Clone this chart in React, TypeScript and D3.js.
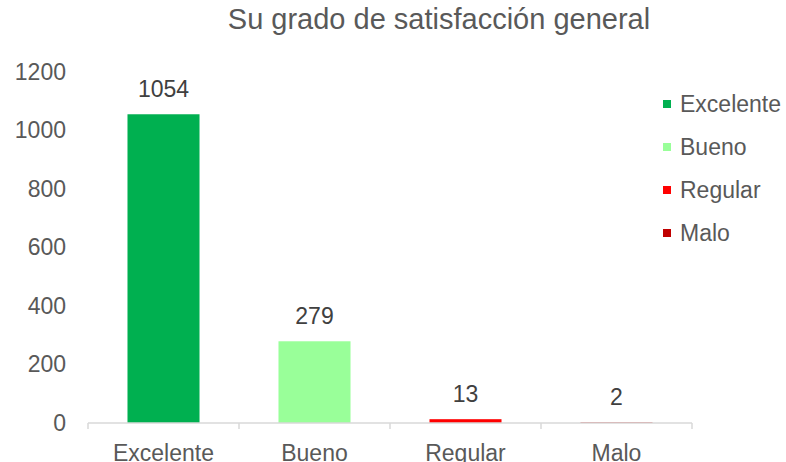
import { useEffect, useRef } from 'react'
import * as d3 from 'd3'

// respuestas de la encuesta
const CATEGORIES = ['Excelente', 'Bueno', 'Regular', 'Malo']
const VALUES = [1054, 279, 13, 2]
const COLORS = ['#00b050', '#99ff99', '#ff0000', '#c00000']
const Y_TICKS = [0, 200, 400, 600, 800, 1000, 1200]
const TITLE = 'Su grado de satisfacción general'

const W = 786, H = 462
const FONT = '"Liberation Sans", Arial, sans-serif'
const TEXT = '#595959'

export default function App() {
  const ref = useRef<SVGSVGElement>(null)

  useEffect(() => {
    const svg = d3.select(ref.current)
    svg.selectAll('*').remove()

    const x = d3.scaleBand<string>()
      .domain(CATEGORIES)
      .range([88, 692])
      .paddingInner(0.523)
      .paddingOuter(0.2615)
    const y = d3.scaleLinear().domain([0, 1200]).range([423, 71.5])

    // título
    svg.append('text')
      .attr('x', 439).attr('y', 29)
      .attr('text-anchor', 'middle')
      .attr('font-family', FONT).attr('font-size', 29)
      .attr('fill', TEXT)
      .text(TITLE)

    // eje y (solo etiquetas, sin líneas de cuadrícula)
    svg.append('g')
      .selectAll('text')
      .data(Y_TICKS)
      .join('text')
      .attr('x', 66).attr('y', d => y(d))
      .attr('dy', '0.35em')
      .attr('text-anchor', 'end')
      .attr('font-family', FONT).attr('font-size', 23)
      .attr('fill', TEXT)
      .text(d => d)

    // barras
    svg.append('g')
      .selectAll('rect')
      .data(VALUES)
      .join('rect')
      .attr('x', (d, i) => x(CATEGORIES[i])!)
      .attr('width', x.bandwidth())
      .attr('y', d => y(d))
      .attr('height', d => y(0) - y(d))
      .attr('fill', (d, i) => COLORS[i])

    // etiquetas de datos
    svg.append('g')
      .selectAll('text')
      .data(VALUES)
      .join('text')
      .attr('x', (d, i) => x(CATEGORIES[i])! + x.bandwidth() / 2)
      .attr('y', d => y(d) - 17)
      .attr('text-anchor', 'middle')
      .attr('font-family', FONT).attr('font-size', 23)
      .attr('fill', '#404040')
      .text(d => d)

    // eje x
    const step = x.step()
    const edges = d3.range(CATEGORIES.length + 1).map(i => 88 + i * step)
    const ax = svg.append('g').attr('stroke', '#d9d9d9').attr('stroke-width', 1.5)
    ax.append('line')
      .attr('x1', 88).attr('x2', 692)
      .attr('y1', y(0)).attr('y2', y(0))
    ax.selectAll('line.tick')
      .data(edges)
      .join('line')
      .attr('class', 'tick')
      .attr('x1', d => d).attr('x2', d => d)
      .attr('y1', y(0)).attr('y2', y(0) + 6)

    svg.append('g')
      .selectAll('text')
      .data(CATEGORIES)
      .join('text')
      .attr('x', d => x(d)! + x.bandwidth() / 2)
      .attr('y', 461)
      .attr('text-anchor', 'middle')
      .attr('font-family', FONT).attr('font-size', 23)
      .attr('fill', TEXT)
      .text(d => d)

    // leyenda
    const leg = svg.append('g')
      .selectAll('g')
      .data(CATEGORIES)
      .join('g')
      .attr('transform', (d, i) => `translate(663,${104 + i * 43})`)
    leg.append('rect')
      .attr('x', 0).attr('y', -4)
      .attr('width', 8).attr('height', 8)
      .attr('fill', (d, i) => COLORS[i])
    leg.append('text')
      .attr('x', 17).attr('y', 0)
      .attr('dy', '0.35em')
      .attr('font-family', FONT).attr('font-size', 23)
      .attr('fill', TEXT)
      .text(d => d)
  }, [])

  return (
    <div style={{ position: 'absolute', left: 0, top: 0 }}>
      <svg ref={ref} width={W} height={H} style={{ display: 'block', background: '#fff' }} />
    </div>
  )
}
